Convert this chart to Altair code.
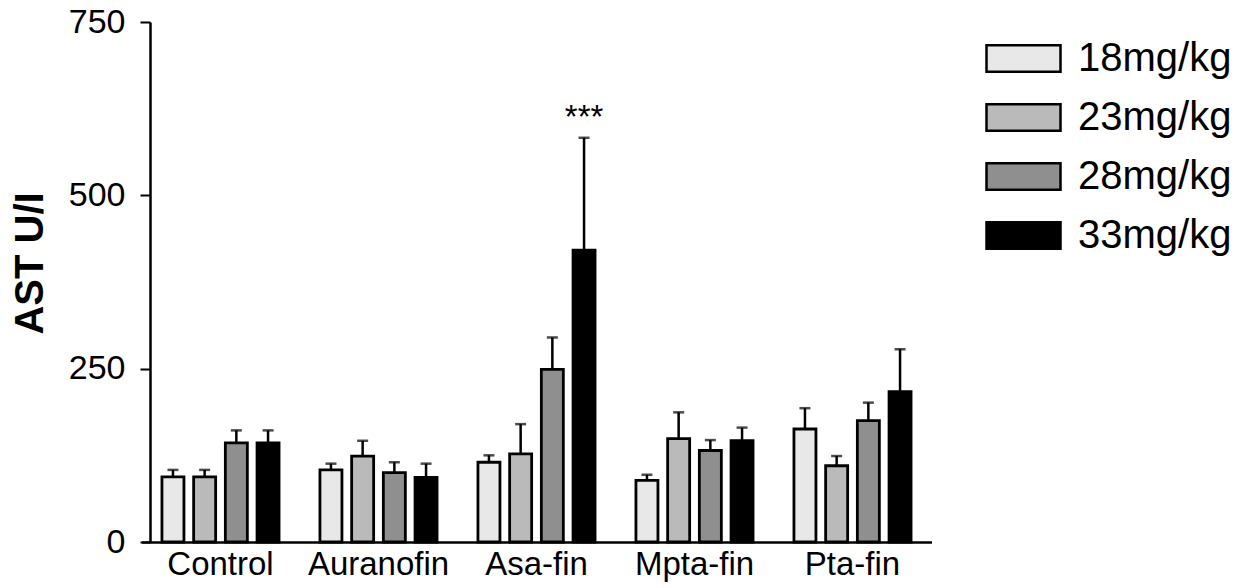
import altair as alt
import pandas as pd

# Treatment groups and dose levels
groups = ["Control", "Auranofin", "Asa-fin", "Mpta-fin", "Pta-fin"]
doses = ["18mg/kg", "23mg/kg", "28mg/kg", "33mg/kg"]

# Mean AST (U/l) per group, one list per dose
mean_18 = [94, 104, 115, 89, 163]
mean_23 = [94, 124, 127, 149, 110]
mean_28 = [143, 100, 249, 132, 175]
mean_33 = [143, 93, 421, 146, 217]

# Upper error (SEM) per group, one list per dose
err_18 = [10, 9, 10, 8, 30]
err_23 = [10, 22, 43, 38, 14]
err_28 = [18, 15, 46, 15, 26]
err_33 = [18, 20, 162, 19, 61]

# Significance marks
stars = {("Asa-fin", "33mg/kg"): "***"}

fills = ["#e8e8e8", "#bababa", "#8f8f8f", "#000000"]

rows = []
for dose, means, errs in zip(doses, [mean_18, mean_23, mean_28, mean_33],
                             [err_18, err_23, err_28, err_33]):
    for g, m, e in zip(groups, means, errs):
        rows.append({"group": g, "dose": dose, "mean": m, "upper": m + e,
                     "star": stars.get((g, dose), "")})
df = pd.DataFrame(rows)

FONT = "Liberation Sans"

x_enc = alt.X(
    "group:N", sort=groups,
    scale=alt.Scale(range=[-8.5, 781.5], paddingInner=0, paddingOuter=0),
    axis=alt.Axis(title=None, labelAngle=0, ticks=False, domainWidth=2.5,
                  domainColor="black", labelFontSize=33, labelPadding=6,
                  labelColor="black", labelFont=FONT),
)
xoff_enc = alt.XOffset("dose:N", sort=doses,
                       scale=alt.Scale(paddingInner=0.306, paddingOuter=0.645))
y_scale = alt.Scale(domain=[0, 750], nice=False, zero=True)
y_axis = alt.Axis(
    values=[0, 250, 500, 750], title="AST U/I", grid=False,
    domainColor="black", domainWidth=2.5, tickColor="black", tickWidth=2,
    tickSize=10, labelFontSize=34, labelPadding=15, labelColor="black",
    labelFont=FONT, titleFont=FONT, titleFontSize=40, titleFontWeight="bold",
    titleColor="black", titleAngle=270, titleX=-120, titleY=241,
    titleAlign="center", titleBaseline="middle",
)

base = alt.Chart(df)

bars = base.mark_bar(stroke="black", strokeWidth=2.8).encode(
    x=x_enc,
    xOffset=xoff_enc,
    y=alt.Y("mean:Q", scale=y_scale, axis=y_axis),
    fill=alt.Fill(
        "dose:N", sort=doses,
        scale=alt.Scale(domain=doses, range=fills),
        legend=alt.Legend(
            title=None, orient="none", legendX=835, legendY=-2,
            symbolType="M-1,-0.36L1,-0.36L1,0.36L-1,0.36Z",
            symbolSize=5476, symbolStrokeColor="black", symbolStrokeWidth=2.5,
            labelFontSize=40, labelFont=FONT, labelColor="black",
            labelOffset=16, rowPadding=0, padding=0,
        ),
    ),
)

whiskers = base.mark_rule(color="black", strokeWidth=2.5).encode(
    x=x_enc, xOffset=xoff_enc,
    y=alt.Y("mean:Q", scale=y_scale), y2="upper:Q",
)

caps = base.mark_tick(color="black", thickness=2.5, size=11).encode(
    x=x_enc, xOffset=xoff_enc,
    y=alt.Y("upper:Q", scale=y_scale),
)

labels = base.transform_filter(alt.datum.star != "").mark_text(
    font=FONT, fontSize=33, color="black", baseline="alphabetic", dy=-10,
).encode(
    x=x_enc, xOffset=xoff_enc,
    y=alt.Y("upper:Q", scale=y_scale),
    text="star:N",
)

chart = (
    alt.layer(bars, whiskers, caps, labels)
    .properties(
        width=783, height=520, autosize="none",
        padding={"left": 150, "top": 22, "right": 320, "bottom": 46},
        background="white",
    )
    .configure_view(stroke=None)
)

chart.save("out.html", embed_options={"renderer": "svg", "actions": False})
